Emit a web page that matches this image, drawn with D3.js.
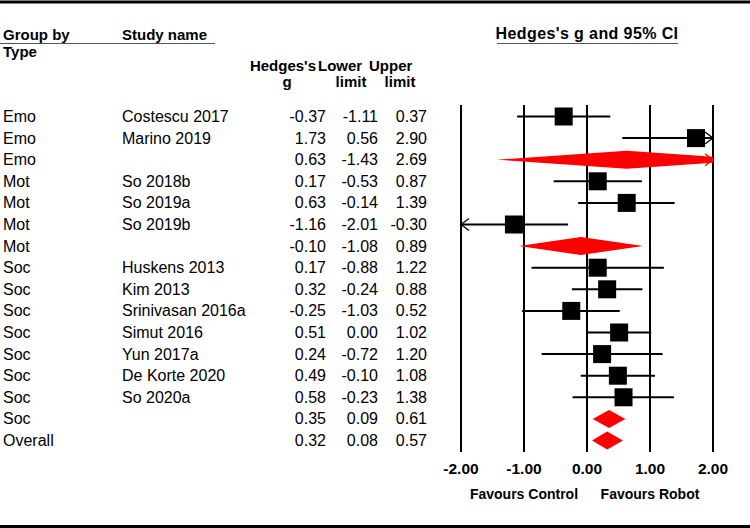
<!DOCTYPE html>
<html>
<head>
<meta charset="utf-8">
<script src="https://cdn.jsdelivr.net/npm/d3@7"></script>
<style>
  body { margin: 0; background: #fff; }
  text { font-family: Arial, "Liberation Sans", sans-serif; fill: #000; }
</style>
</head>
<body>
<svg id="chart" width="750" height="528"></svg>
<script>
// forest plot data
const groups = ["Emo", "Emo", "Emo", "Mot", "Mot", "Mot", "Mot", "Soc", "Soc", "Soc", "Soc", "Soc", "Soc", "Soc", "Soc", "Overall"]
const studies = ["Costescu 2017", "Marino 2019", "", "So 2018b", "So 2019a", "So 2019b", "", "Huskens 2013", "Kim 2013", "Srinivasan 2016a", "Simut 2016", "Yun 2017a", "De Korte 2020", "So 2020a", "", ""]
const hedgesG = [-0.37, 1.73, 0.63, 0.17, 0.63, -1.16, -0.10, 0.17, 0.32, -0.25, 0.51, 0.24, 0.49, 0.58, 0.35, 0.32]
const lowerLimit = [-1.11, 0.56, -1.43, -0.53, -0.14, -2.01, -1.08, -0.88, -0.24, -1.03, 0.00, -0.72, -0.10, -0.23, 0.09, 0.08]
const upperLimit = [0.37, 2.90, 2.69, 0.87, 1.39, -0.30, 0.89, 1.22, 0.88, 0.52, 1.02, 1.20, 1.08, 1.38, 0.61, 0.57]
const isSummary = [false, false, true, false, false, false, true, false, false, false, false, false, false, false, true, true]
const xTicks = [-2, -1, 0, 1, 2]

const svg = d3.select("#chart")
const rows = d3.range(groups.length)

const x = d3.scaleLinear().domain([-2, 2]).range([461, 713])
const y = d3.scaleLinear().domain([0, groups.length - 1]).range([122, 446]) // text baselines
const mid = (i) => y(i) - 5.5

// top and bottom rules
svg.append("line").attr("x1", 0).attr("x2", 750).attr("y1", 2).attr("y2", 2).attr("stroke", "#000").attr("stroke-width", 3)
svg.append("line").attr("x1", 0).attr("x2", 750).attr("y1", 526.5).attr("y2", 526.5).attr("stroke", "#000").attr("stroke-width", 3)

// header
const bold = (t, px, py, size, anchor) => svg.append("text").attr("x", px).attr("y", py)
    .attr("font-size", size).attr("font-weight", "bold").attr("text-anchor", anchor || "start").text(t)

bold("Group by", 3, 40, "15px")
bold("Study name", 122, 40, "15px")
bold("Type", 3, 57, "15px")
svg.append("line").attr("x1", 0).attr("x2", 215).attr("y1", 43.5).attr("y2", 43.5).attr("stroke", "#555").attr("stroke-width", 1.2)

bold("Hedges's", 316, 71, "15px", "end")
bold("g", 287, 87, "15px", "middle")
bold("Lower", 318, 71, "15px")
bold("limit", 351, 87, "15px", "middle")
bold("Upper", 369, 71, "15px")
bold("limit", 400, 87, "15px", "middle")

bold("Hedges's g and 95% CI", 587, 39, "16px", "middle").attr("letter-spacing", "0.4px")
svg.append("line").attr("x1", 497).attr("x2", 678).attr("y1", 43.5).attr("y2", 43.5).attr("stroke", "#555").attr("stroke-width", 1.2)

// table columns
const table = svg.append("g").attr("font-size", "16px")
const f2 = (v) => v.toFixed(2)
const col = (vals, px, anchor, fmt) => table.selectAll(null)
    .data(rows).enter().append("text")
    .attr("x", px).attr("y", (i) => y(i))
    .attr("text-anchor", anchor)
    .text((i) => fmt(vals[i]))

col(groups, 3, "start", (d) => d)
col(studies, 122, "start", (d) => d)
col(hedgesG, 326, "end", f2)
col(lowerLimit, 378, "end", f2)
col(upperLimit, 427, "end", f2)

// vertical reference lines
svg.append("g").selectAll("line").data(xTicks).enter().append("line")
    .attr("x1", (d) => x(d)).attr("x2", (d) => x(d))
    .attr("y1", 105).attr("y2", 452)
    .attr("stroke", "#000").attr("stroke-width", 2)

svg.append("g").selectAll("text").data(xTicks).enter().append("text")
    .attr("x", (d) => x(d)).attr("y", 474)
    .attr("text-anchor", "middle").attr("font-size", "15.5px").attr("font-weight", "bold")
    .text(f2)

bold("Favours Control", x(-1), 499, "14px", "middle")
bold("Favours Robot", x(1), 499, "14px", "middle")

const [xmin, xmax] = x.domain()
const clamp = (v) => Math.max(xmin, Math.min(xmax, v))

svg.append("defs").append("clipPath").attr("id", "plotclip")
    .append("rect").attr("x", x(xmin)).attr("y", 0).attr("width", x(xmax) - x(xmin)).attr("height", 528)

const marks = svg.append("g")
const arrowHead = (px, py, dir, color) => {
    marks.append("path")
        .attr("d", `M${px - dir * 8},${py - 6}L${px},${py}L${px - dir * 8},${py + 6}`)
        .attr("fill", "none").attr("stroke", color).attr("stroke-width", 1.3)
}

// study rows: CI line + square
const studyRows = rows.filter((i) => !isSummary[i])
marks.selectAll("line.ci").data(studyRows).enter().append("line")
    .attr("class", "ci")
    .attr("x1", (i) => x(clamp(lowerLimit[i]))).attr("x2", (i) => x(clamp(upperLimit[i])))
    .attr("y1", mid).attr("y2", mid)
    .attr("stroke", "#000").attr("stroke-width", 2)

marks.selectAll("rect.pt").data(studyRows).enter().append("rect")
    .attr("class", "pt")
    .attr("x", (i) => x(hedgesG[i]) - 9).attr("y", (i) => mid(i) - 9)
    .attr("width", 18).attr("height", 18)
    .attr("fill", "#000")

studyRows.forEach((i) => {
    if (upperLimit[i] > xmax) arrowHead(x(xmax), mid(i), 1, "#000")
    if (lowerLimit[i] < xmin) arrowHead(x(xmin), mid(i), -1, "#000")
})

// summary diamonds
const sumRows = rows.filter((i) => isSummary[i])
marks.selectAll("path.dia").data(sumRows).enter().append("path")
    .attr("class", "dia")
    .attr("clip-path", "url(#plotclip)")
    .attr("d", (i) => {
        const c = mid(i), h = 9
        return `M${x(lowerLimit[i])},${c}L${x(hedgesG[i])},${c - h}L${x(upperLimit[i])},${c}L${x(hedgesG[i])},${c + h}Z`
    })
    .attr("fill", "#ff0000")

sumRows.forEach((i) => {
    if (upperLimit[i] > xmax) arrowHead(x(xmax), mid(i), 1, "#ff0000")
    if (lowerLimit[i] < xmin) arrowHead(x(xmin), mid(i), -1, "#ff0000")
})
</script>
</body>
</html>
